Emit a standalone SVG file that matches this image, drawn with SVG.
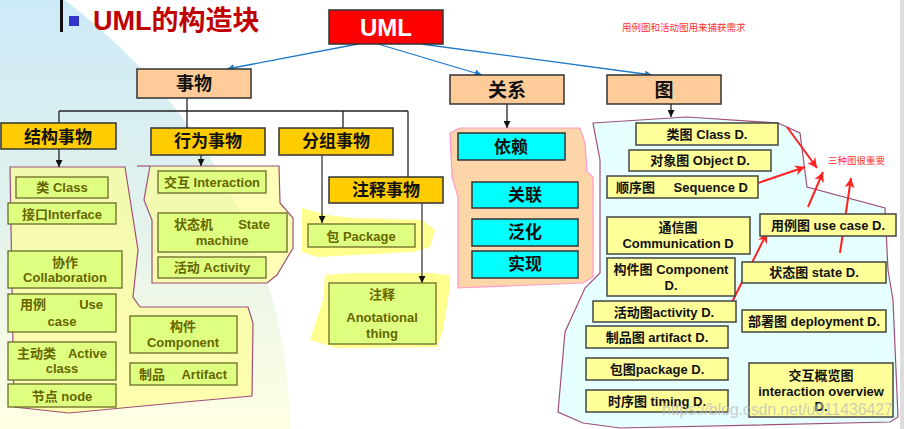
<svg xmlns="http://www.w3.org/2000/svg" width="904" height="429" viewBox="0 0 904 429">
<defs>
<linearGradient id="bg" gradientUnits="userSpaceOnUse" x1="0" y1="0" x2="0" y2="429">
<stop offset="0" stop-color="#CDEAF8"/><stop offset="0.5" stop-color="#E2F2EC"/><stop offset="1" stop-color="#FFFFE2"/>
</linearGradient>
<marker id="ab" viewBox="0 0 10 10" refX="10" refY="5" markerWidth="7" markerHeight="7" markerUnits="userSpaceOnUse" orient="auto"><path d="M0,0 L10,5 L0,10 z" fill="#111"/></marker>
<marker id="abl" viewBox="0 0 10 10" refX="10" refY="5" markerWidth="8" markerHeight="7" markerUnits="userSpaceOnUse" orient="auto"><path d="M0,0 L10,5 L0,10 z" fill="#1F78C8"/></marker>
<marker id="ar" viewBox="0 0 10 10" refX="10" refY="5" markerWidth="11" markerHeight="10" markerUnits="userSpaceOnUse" orient="auto"><path d="M0,0 L10,5 L0,10 L3,5 z" fill="#FF2020"/></marker>
<style>
text{font-family:"Liberation Sans","Noto Sans CJK SC",sans-serif;font-weight:bold}
.hdr{fill:#FFCC99;stroke:#333;stroke-width:1.5}
.gold{fill:#FFCC00;stroke:#333;stroke-width:1.5}
.cyan{fill:#00FFFF;stroke:#333;stroke-width:1.5}
.olv{fill:#DFFF80;stroke:#6B6B2A;stroke-width:1.3}
.yb{fill:#FFFF99;stroke:#444;stroke-width:1.5}
.ot{fill:#666600;font-size:13px}
.bt{fill:#111;font-size:13px}
.c{text-anchor:middle}
.ln{stroke:#222;stroke-width:1.3;fill:none}
.gl{stroke:#555;stroke-width:1.5;fill:none}
.bl{stroke:#1F78C8;stroke-width:1.3;fill:none}
.rl{stroke:#FF2020;stroke-width:2;fill:none}
.rt{fill:#FF3030;font-family:"Noto Sans CJK SC",sans-serif;font-weight:normal;font-size:9.5px}
</style>
</defs>
<rect width="904" height="429" fill="#FFFFFF"/>
<ellipse cx="-380" cy="430" rx="670" ry="575" fill="url(#bg)"/>
<rect x="900" y="0" width="4" height="429" fill="#DDDDDD"/>

<!-- regions -->
<polygon points="10,167 125,167 138,250 133,297 140,307 248,307 253,323 252,396 196,401 69,413 14,407" fill="#FFFF88" fill-opacity="0.6" stroke="#A05078" stroke-width="1.2"/>
<polygon points="150,166 279,166 280,203 293,218 293,248 277,275 267,283 152,283 152,220 144,200" fill="#FFFF88" fill-opacity="0.6" stroke="#A05078" stroke-width="1.2"/>
<line x1="137" y1="166" x2="150" y2="166" stroke="#A05078" stroke-width="1.2"/>
<polygon points="302,208 327,215 353,218 422,220 435,230 430,247 413,252 317,257 302,252" fill="#FFFF90"/>
<polygon points="325,275 353,273 430,273 450,275 450,287 443,330 437,347 337,348 310,340 323,300" fill="#FFFF90"/>
<polygon points="450,133 460,128 580,128 585,143 587,172 593,177 593,277 583,283 458,288 458,197 452,177" fill="#FCD5A8" stroke="#FF99CC" stroke-width="1.2"/>
<polygon points="593,123 687,117 778,123 800,133 807,187 885,208 888,270 893,300 898,417 890,422 620,428 583,423 558,412 565,332 585,288 600,273 600,160" fill="#E6FFFF" stroke="#A05078" stroke-width="1.2"/>

<!-- title -->
<rect x="60" y="0" width="3" height="32" fill="#111"/>
<rect x="69" y="16" width="10" height="10" fill="#3333CC"/>
<text x="93" y="30" font-size="27" fill="#C00000">UML的构造块</text>
<text x="622" y="31" class="rt">用例图和活动图用来捕获需求</text>
<text x="828" y="164" class="rt">三种图很重要</text>

<!-- connectors -->
<g id="connectors">
<line class="bl" x1="358" y1="44" x2="227" y2="69" marker-end="url(#abl)"/>
<line class="bl" x1="378" y1="44" x2="482" y2="75" marker-end="url(#abl)"/>
<line class="bl" x1="421" y1="44" x2="652" y2="75" marker-end="url(#abl)"/>
<line class="ln" x1="187" y1="98" x2="187" y2="111"/>
<line class="ln" x1="59" y1="111" x2="408" y2="111"/>
<line class="ln" x1="59" y1="111" x2="59" y2="123"/>
<line class="ln" x1="187" y1="111" x2="187" y2="128"/>
<line class="ln" x1="343" y1="111" x2="343" y2="128"/>
<line class="ln" x1="408" y1="111" x2="408" y2="177"/>
<line class="ln" x1="59" y1="149" x2="59" y2="167" marker-end="url(#ab)"/>
<line class="ln" x1="201" y1="155" x2="201" y2="166" marker-end="url(#ab)"/>
<line class="gl" x1="322" y1="155" x2="322" y2="223" marker-end="url(#ab)"/>
<line class="gl" x1="422" y1="203" x2="422" y2="283" marker-end="url(#ab)"/>
<line class="ln" x1="507" y1="104" x2="507" y2="128" marker-end="url(#ab)"/>
<line class="ln" x1="671" y1="104" x2="671" y2="117" marker-end="url(#ab)"/>
<line class="rl" x1="787" y1="127" x2="817" y2="168" marker-end="url(#ar)"/>
<line class="rl" x1="758" y1="183" x2="805" y2="167" marker-end="url(#ar)"/>
<line class="rl" x1="808" y1="207" x2="823" y2="172" marker-end="url(#ar)"/>
<line class="rl" x1="840" y1="253" x2="851" y2="178" marker-end="url(#ar)"/>
<line class="rl" x1="732" y1="302" x2="767" y2="233" marker-end="url(#ar)"/>
</g>

<!-- top nodes -->
<g id="uml"><rect x="329" y="10" width="114" height="34" fill="#FF0000" stroke="#333" stroke-width="1.5"/><text x="386" y="36" class="c" font-size="24" fill="#FFFFFF">UML</text></g>
<g id="things"><rect class="hdr" x="137" y="69" width="114" height="29"/><text x="194" y="90" class="c" font-size="18" fill="#111">事物</text></g>
<g id="relations"><rect class="hdr" x="450" y="75" width="114" height="29"/><text x="507" y="97" class="c" font-size="19" fill="#111">关系</text></g>
<g id="diagrams"><rect class="hdr" x="607" y="75" width="114" height="29"/><text x="664" y="97" class="c" font-size="19" fill="#111">图</text></g>

<g id="structural"><rect class="gold" x="1" y="123" width="115" height="26"/><text x="58" y="143" class="c" font-size="17" fill="#111">结构事物</text></g>
<g id="behavioral"><rect class="gold" x="151" y="128" width="114" height="27"/><text x="208" y="147" class="c" font-size="17" fill="#111">行为事物</text></g>
<g id="grouping"><rect class="gold" x="279" y="128" width="114" height="27"/><text x="336" y="147" class="c" font-size="17" fill="#111">分组事物</text></g>
<g id="annotational"><rect class="gold" x="329" y="177" width="114" height="26"/><text x="386" y="196" class="c" font-size="17" fill="#111">注释事物</text></g>

<!-- structural children -->
<g id="class"><rect class="olv" x="16" y="177" width="92" height="21"/><text x="62" y="192" class="ot c">类 Class</text></g>
<g id="interface"><rect class="olv" x="8" y="203" width="108" height="21"/><text x="62" y="219" class="ot c">接口Interface</text></g>
<g id="collaboration"><rect class="olv" x="8" y="251" width="114" height="37"/><text x="65" y="267" class="ot c">协作</text><text x="65" y="282" class="ot c">Collaboration</text></g>
<g id="usecase"><rect class="olv" x="8" y="294" width="108" height="38"/><text x="20" y="309" class="ot">用例</text><text x="103" y="309" class="ot" text-anchor="end">Use</text><text x="62" y="326" class="ot c">case</text></g>
<g id="activeclass"><rect class="olv" x="8" y="342" width="108" height="38"/><text x="17" y="358" class="ot">主动类</text><text x="107" y="358" class="ot" text-anchor="end">Active</text><text x="62" y="373" class="ot c">class</text></g>
<g id="node"><rect class="olv" x="8" y="384" width="108" height="23"/><text x="62" y="401" class="ot c">节点 node</text></g>
<g id="component"><rect class="olv" x="130" y="316" width="107" height="37"/><text x="183" y="331" class="ot c">构件</text><text x="183" y="347" class="ot c">Component</text></g>
<g id="artifact"><rect class="olv" x="130" y="363" width="107" height="22"/><text x="139" y="379" class="ot">制品</text><text x="227" y="379" class="ot" text-anchor="end">Artifact</text></g>

<!-- behavioral children -->
<g id="interaction"><rect class="olv" x="158" y="171" width="108" height="22"/><text x="212" y="187" class="ot c">交互 Interaction</text></g>
<g id="statemachine"><rect class="olv" x="158" y="213" width="129" height="39"/><text x="174" y="229" class="ot">状态机</text><text x="270" y="229" class="ot" text-anchor="end">State</text><text x="222" y="245" class="ot c">machine</text></g>
<g id="activity"><rect class="olv" x="158" y="257" width="108" height="21"/><text x="212" y="272" class="ot c">活动 Activity</text></g>

<!-- grouping / annotation children -->
<g id="package"><rect class="olv" x="308" y="224" width="107" height="23"/><text x="361" y="241" class="ot c">包 Package</text></g>
<g id="note"><rect class="olv" x="329" y="283" width="107" height="61"/><text x="382" y="299" class="ot c">注释</text><text x="382" y="322" class="ot c">Anotational</text><text x="382" y="338" class="ot c">thing</text></g>

<!-- relation children -->
<g id="dependency"><rect class="cyan" x="458" y="133" width="107" height="27"/><text x="511" y="153" class="c" font-size="17" fill="#111">依赖</text></g>
<g id="association"><rect class="cyan" x="472" y="182" width="106" height="26"/><text x="525" y="201" class="c" font-size="17" fill="#111">关联</text></g>
<g id="generalization"><rect class="cyan" x="472" y="219" width="106" height="27"/><text x="525" y="238" class="c" font-size="17" fill="#111">泛化</text></g>
<g id="realization"><rect class="cyan" x="472" y="251" width="106" height="27"/><text x="525" y="270" class="c" font-size="17" fill="#111">实现</text></g>

<!-- diagram children -->
<g id="classd"><rect class="yb" x="636" y="123" width="142" height="22"/><text x="707" y="139" class="bt c">类图 Class D.</text></g>
<g id="objectd"><rect class="yb" x="629" y="150" width="142" height="21"/><text x="700" y="165" class="bt c">对象图 Object D.</text></g>
<g id="sequenced"><rect class="yb" x="607" y="176" width="151" height="22"/><text x="616" y="192" class="bt">顺序图</text><text x="748" y="192" class="bt" text-anchor="end">Sequence D</text></g>
<g id="communicationd"><rect class="yb" x="607" y="217" width="143" height="37"/><text x="678" y="232" class="bt c">通信图</text><text x="678" y="248" class="bt c">Communication D</text></g>
<g id="componentd"><rect class="yb" x="607" y="258" width="128" height="38"/><text x="671" y="274" class="bt c">构件图 Component</text><text x="671" y="290" class="bt c">D.</text></g>
<g id="activityd"><rect class="yb" x="593" y="301" width="143" height="21"/><text x="664" y="317" class="bt c">活动图activity D.</text></g>
<g id="artifactd"><rect class="yb" x="586" y="326" width="142" height="22"/><text x="657" y="342" class="bt c">制品图 artifact D.</text></g>
<g id="packaged"><rect class="yb" x="586" y="358" width="142" height="22"/><text x="657" y="374" class="bt c">包图package D.</text></g>
<g id="timingd"><rect class="yb" x="586" y="390" width="142" height="22"/><text x="657" y="406" class="bt c">时序图 timing D.</text></g>
<g id="usecased"><rect class="yb" x="760" y="214" width="136" height="22"/><text x="828" y="230" class="bt c">用例图 use case D.</text></g>
<g id="stated"><rect class="yb" x="742" y="262" width="144" height="21"/><text x="814" y="277" class="bt c">状态图 state D.</text></g>
<g id="deploymentd"><rect class="yb" x="742" y="310" width="144" height="22"/><text x="814" y="326" class="bt c">部署图 deployment D.</text></g>
<g id="overviewd"><rect class="yb" x="749" y="363" width="144" height="54"/><text x="821" y="380" class="bt c">交互概览图</text><text x="821" y="396" class="bt c">interaction overview</text><text x="821" y="411" class="bt c">D.</text></g>

<text x="662" y="415" font-size="16" fill="#BBBBBB" fill-opacity="0.75" style="font-weight:normal" textLength="231">https://blog.csdn.net/u011436427</text>
</svg>
